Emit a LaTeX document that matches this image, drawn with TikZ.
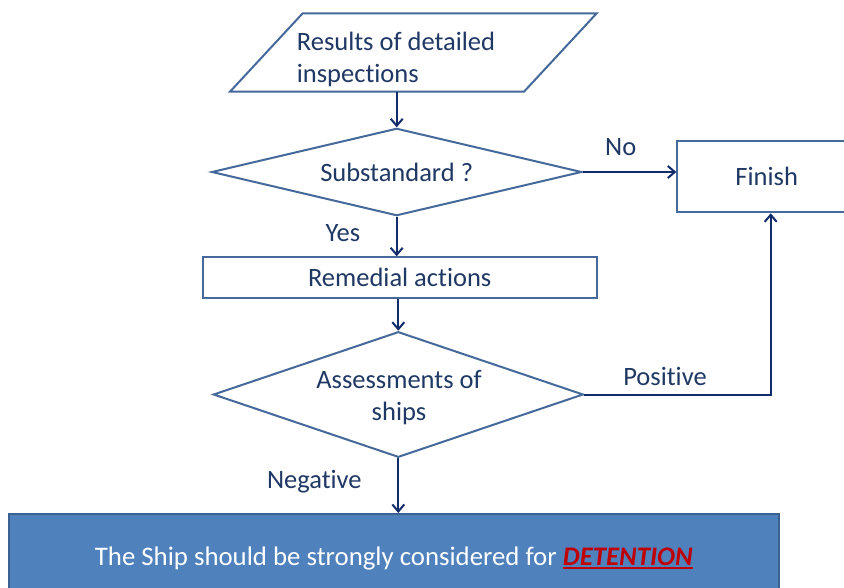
\documentclass[tikz,border=0pt]{standalone}
\usepackage{fontspec}
\setmainfont{Carlito}[Ligatures={NoCommon,NoRequired,NoContextual}]
\usetikzlibrary{shapes.geometric,arrows.meta,calc}

\definecolor{outline}{HTML}{46699C}
\definecolor{flow}{HTML}{112B6B}
\definecolor{ink}{HTML}{1F3864}
\definecolor{boxfill}{HTML}{4F81BD}
\definecolor{boxedge}{HTML}{3A6190}
\definecolor{alert}{HTML}{C00000}

% heavy underline for the emphasised word
\newcommand\thickul[1]{\setbox0\hbox{#1}\rlap{\rule[-3.5pt]{\wd0}{1.8pt}}\box0}

\begin{document}
\begin{tikzpicture}[x=1pt,y=-1pt,
  shapeline/.style={draw=outline,line width=2pt,fill=white,inner sep=0pt},
  txt/.style={text=ink,font=\fontsize{26.5}{31.7}\selectfont},
  flowline/.style={draw=flow,line width=2pt,
    -{Straight Barb[length=7pt,width=12pt,line width=2pt]}},
]
\clip (0,0) rectangle (844,588);
\fill[white] (0,0) rectangle (844,588);

% input (parallelogram)
\coordinate (srcTL) at (302.7,13.3);
\coordinate (srcTR) at (596.7,13.3);
\coordinate (srcBR) at (524,91.7);
\coordinate (srcBL) at (230,91.7);
\draw[draw=outline,line width=2pt,fill=white] (srcTL) -- (srcTR) -- (srcBR) -- (srcBL) -- cycle;
\coordinate (srcfoot) at ($(srcBL)!0.5!(srcBR)$);
\node[txt,align=left,inner sep=0pt] (srctext) at (396,59.5) {Results of detailed\\inspections};

% first decision
\node[shapeline,diamond,shape aspect=4.2,minimum width=370pt,minimum height=87.4pt,txt]
      (q1) at (396.7,172) {Substandard ?};

% remedial step
\node[shapeline,rectangle,minimum width=394pt,minimum height=41pt,txt]
      (fix) at (399.7,277.8) {Remedial actions};

% end state
\node[shapeline,rectangle,minimum width=178.7pt,minimum height=71.6pt,txt]
      (done) at (766.7,176.5) {Finish};

% second decision
\node[shapeline,diamond,shape aspect=2.95,inner sep=2pt,minimum width=370pt,minimum height=125.6pt]
      (q2) at (398.3,394.5) {};
\node[txt,align=center,inner sep=0pt] (q2text) at (399,397.5) {Assessments of\\ships};

% outcome
\node[draw=boxedge,fill=boxfill,line width=2pt,minimum width=769.7pt,minimum height=88pt,
      text=white,font=\fontsize{26.8}{32}\selectfont]
      (verdict) at (393.8,558)
      {The Ship should be strongly considered for \textcolor{alert}{\thickul{\textbf{\textit{DETENTION}}}}};

% branch labels
\node[txt] (lblno) at (620.7,146.7) {No};
\node[txt] (lblyes) at (343,232.7) {Yes};
\node[txt] (lblpos) at (665,376.7) {Positive};
\node[txt] (lblneg) at (314.3,481.7) {Negative};

% connectors
\coordinate (turn) at (770.7,394.5);
\draw[flowline] (srcfoot -| q1.north) -- (q1.north);
\draw[flowline] (q1.south) -- (q1.south |- fix.north);
\draw[flowline] (q2.north |- fix.south) -- (q2.north);
\draw[flowline] (q1.east) -- (q1.east -| done.west);
\draw[flowline] (q2.east) -- (turn) -- (turn |- done.south);
\draw[flowline] (q2.south) -- (q2.south |- verdict.north);
\end{tikzpicture}
\end{document}
